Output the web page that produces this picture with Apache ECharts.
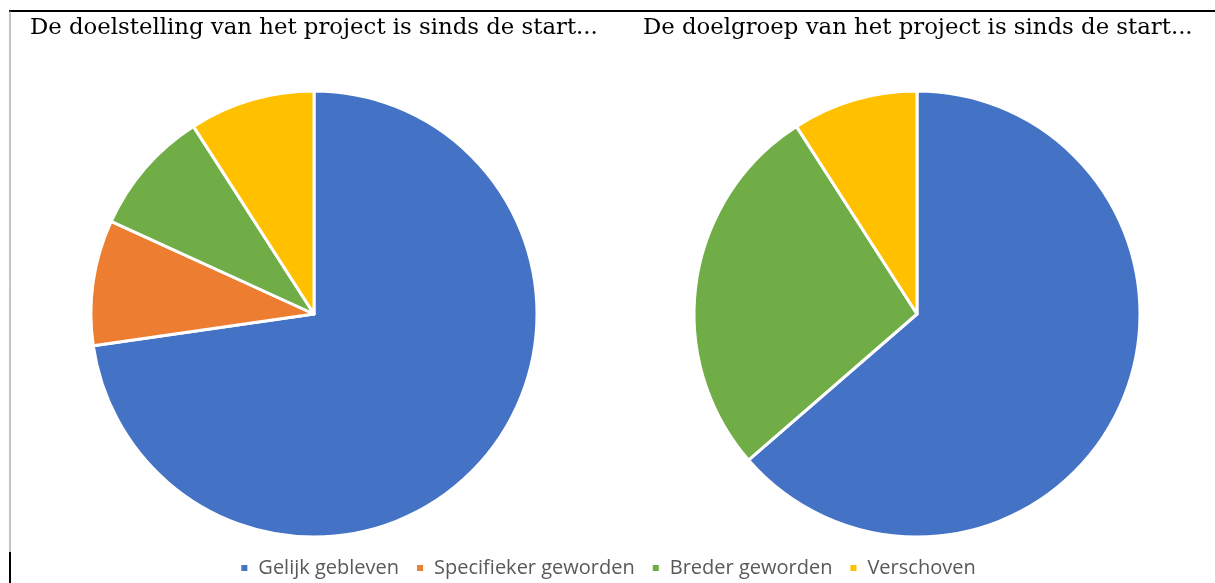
<!DOCTYPE html>
<html>
<head>
<meta charset="UTF-8">
<title>pie</title>
<script type="text/javascript" src="https://cdn.jsdelivr.net/npm/echarts@6/dist/echarts.min.js"></script>
<style>
  html, body { margin: 0; padding: 0; background: #fff; }
</style>
</head>
<body>
<div id="main" style="width: 1215px; height: 583px"></div>

<script type="text/javascript">
	// categories and colours
	var categories = ['Gelijk gebleven', 'Specifieker geworden', 'Breder geworden', 'Verschoven'];
	var colors = ['#4472C4', '#ED7D31', '#70AD47', '#FFC000'];

	// values per pie (counts)
	var doelstelling = [8, 1, 1, 1];
	var doelgroep = [7, 0, 3, 1];

	var titles = ['De doelstelling van het project is sinds de start...', 'De doelgroep van het project is sinds de start...'];

	function buildData(values) {
		var out = [];
		for (var i = 0; i < categories.length; i++) {
			if (values[i] > 0) {
				out.push({ name: categories[i], value: values[i], itemStyle: { color: colors[i] } });
			}
		}
		return out;
	}

	var titleFont = { fontFamily: 'DejaVu Serif', fontSize: 22.8, fontWeight: 'normal', color: '#000' };

	var mychart = echarts.init(document.getElementById('main'));
	var option = {
		animation: false,
		color: colors,
		title: [{
			text: titles[0],
			left: 25, top: 12,
			textStyle: titleFont
		}, {
			text: titles[1],
			left: 638, top: 12,
			textStyle: titleFont
		}],
		legend: {
			data: categories,
			top: 553,
			left: 'center',
			icon: 'rect',
			itemWidth: 8,
			itemHeight: 8,
			itemGap: 16,
			textStyle: { fontFamily: 'Open Sans', fontSize: 20, color: '#595959', padding: [0, 0, 0, 5] }
		},
		graphic: [
			{ type: 'line', shape: { x1: 9, y1: 11, x2: 1215, y2: 11 }, style: { stroke: '#000', lineWidth: 2 } },
			{ type: 'line', shape: { x1: 10, y1: 11, x2: 10, y2: 552 }, style: { stroke: '#888', lineWidth: 1 } },
			{ type: 'line', shape: { x1: 10, y1: 552, x2: 10, y2: 583 }, style: { stroke: '#000', lineWidth: 2 } }
		],
		series: [{
			name: 'doelstelling',
			type: 'pie',
			center: [314, 314],
			radius: [0, 223],
			startAngle: 90,
			clockwise: true,
			label: { show: false },
			labelLine: { show: false },
			itemStyle: { borderColor: '#fff', borderWidth: 3 },
			emphasis: { disabled: true },
			data: buildData(doelstelling)
		}, {
			name: 'doelgroep',
			type: 'pie',
			center: [917, 314],
			radius: [0, 223],
			startAngle: 90,
			clockwise: true,
			label: { show: false },
			labelLine: { show: false },
			itemStyle: { borderColor: '#fff', borderWidth: 3 },
			emphasis: { disabled: true },
			data: buildData(doelgroep)
		}]
	};
	mychart.setOption(option);
</script>
</body>
</html>
